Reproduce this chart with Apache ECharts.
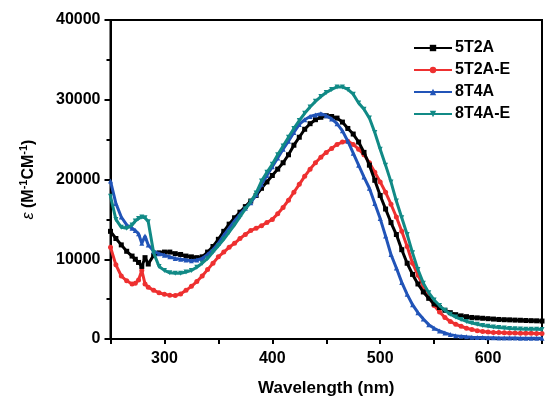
<!DOCTYPE html>
<html>
<head>
<meta charset="utf-8">
<script src="https://cdn.jsdelivr.net/npm/echarts@6/dist/echarts.min.js"></script>
<style>html,body{margin:0;padding:0;background:#fff}#c{width:545px;height:402px}</style>
</head>
<body>
<div id="c"></div>
<script>
const wavelengths = [250,255,260,265,270,273,276,279,282,285,
  290,295,300,305,310,315,320,325,330,335,
  340,345,350,355,360,365,370,375,380,385,
  390,395,400,405,410,415,420,425,430,435,
  440,445,450,455,460,465,470,475,480,485,
  490,495,500,505,510,515,520,525,530,535,
  540,545,550,555,560,565,570,575,580,585,
  590,595,600,605,610,615,620,625,630,635,
  640,645,650];
const seriesNames = ['5T2A','5T2A-E','8T4A','8T4A-E'];
const s5T2A = [13500,12600,11800,11000,10400,10000,9600,9100,10200,9400,
  10500,10800,10900,10900,10700,10600,10400,10300,10200,10300,
  10900,11600,12500,13500,14400,15200,15900,16600,17300,18000,
  18900,19700,20500,21300,22100,23100,24300,25300,26300,27000,
  27500,27800,28000,27900,27700,27200,26400,25700,24700,23400,
  21800,19900,18000,16300,14600,13100,11200,9500,8100,6900,
  5900,5100,4400,3950,3600,3300,3050,2900,2800,2700,
  2650,2600,2550,2500,2450,2420,2400,2370,2350,2320,
  2300,2280,2250];
const s5T2AE = [11500,9300,7900,7300,6900,7000,7400,8600,6900,6500,
  6100,5800,5600,5500,5450,5650,6100,6600,7200,7900,
  8700,9500,10300,10900,11500,12000,12600,13100,13600,13900,
  14200,14600,15000,15700,16500,17400,18400,19400,20400,21300,
  22100,22800,23400,23900,24400,24700,24800,24400,23800,23100,
  22100,20900,19700,18400,16900,15300,13500,11600,9500,8000,
  6600,5300,4200,3400,2700,2200,1850,1600,1350,1200,
  1050,950,880,830,800,780,760,740,730,720,
  710,700,700];
const s8T4A = [19800,17000,15300,14300,13900,13600,13200,12000,12900,11800,
  11000,10700,10500,10300,10100,10000,9900,9800,9900,10100,
  10600,11200,12000,13000,13900,14800,15600,16400,17100,18100,
  19400,20500,21600,22700,23800,24800,25900,26900,27500,27900,
  28100,28250,28000,27600,27000,26100,24800,23300,21800,20300,
  18900,17000,15100,12900,10600,8900,7100,5600,4300,3300,
  2500,1800,1350,1000,750,550,420,330,270,230,
  200,180,160,150,140,130,120,110,100,100,
  100,100,100];
const s8T4AE = [17900,15000,14000,13900,14300,14800,15100,15300,15200,14700,
  10800,9100,8600,8300,8250,8250,8400,8600,9000,9500,
  10100,10900,11700,12500,13400,14300,15300,16300,17200,18300,
  19800,20900,21900,23100,24200,25300,26400,27400,28300,29100,
  29800,30400,30900,31300,31600,31600,31300,30700,29600,28800,
  27700,25900,23800,21800,19700,17300,15200,13100,10800,8700,
  7000,5800,4900,4200,3600,3100,2750,2450,2200,2000,
  1850,1700,1600,1500,1430,1370,1320,1280,1250,1230,
  1220,1210,1200];
const xTickLabels = [300,400,500,600];
const yTickLabels = [0,10000,20000,30000,40000];

const colors = ['#000000','#ee3030','#2154b8','#118a86'];
const symbols = ['rect','circle','triangle','triangle'];
const rotations = [0,0,0,180];
const allValues = [s5T2A, s5T2AE, s8T4A, s8T4AE];

const chart = echarts.init(document.getElementById('c'), null, {renderer:'canvas'});
const FONT = 'Liberation Sans, Arial, sans-serif';
chart.setOption({
  animation: false,
  backgroundColor: '#fff',
  grid: {left: 110.5, right: -1, top: 20, bottom: 58.7, show: true, borderColor: '#000', borderWidth: 2, backgroundColor: 'transparent'},
  legend: {
    orient: 'vertical', left: 408, top: 35,
    itemWidth: 38, itemHeight: 8, itemGap: 6,
    textStyle: {fontFamily: FONT, fontWeight: 'bold', fontSize: 16, color: '#000', padding: [0,0,0,-2]},
    data: seriesNames
  },
  xAxis: {
    type: 'value', min: 250, max: 650, interval: 50,
    name: 'Wavelength (nm)', nameLocation: 'middle', nameGap: 41,
    nameTextStyle: {fontFamily: FONT, fontWeight: 'bold', fontSize: 17, color: '#000'},
    axisLine: {lineStyle: {color: '#000', width: 2}},
    axisTick: {length: 5, lineStyle: {color: '#000', width: 2}},
    axisLabel: {
      fontFamily: FONT, fontWeight: 'bold', fontSize: 16, color: '#000', margin: 12,
      formatter: v => xTickLabels.indexOf(v) >= 0 ? String(v) : ''
    },
    splitLine: {show: false}
  },
  yAxis: {
    type: 'value', min: 0, max: 40000, interval: 10000,
    name: '{e|ε} (M{s|-1}CM{s|-1})', nameLocation: 'middle', nameGap: 72,
    nameTextStyle: {
      fontFamily: FONT, fontWeight: 'bold', fontSize: 16, color: '#000',
      rich: {
        e: {fontFamily: FONT, fontStyle: 'italic', fontWeight: 'normal', fontSize: 16, color: '#000'},
        s: {fontFamily: FONT, fontWeight: 'bold', fontSize: 11, color: '#000', padding: [0,0,9,0]}
      }
    },
    axisLine: {show: true, lineStyle: {color: '#000', width: 2}},
    axisTick: {show: true, length: 6, lineStyle: {color: '#000', width: 2}},
    minorTick: {show: true, splitNumber: 2, length: 4, lineStyle: {color: '#000', width: 2}},
    axisLabel: {
      fontFamily: FONT, fontWeight: 'bold', fontSize: 16, color: '#000', margin: 10,
      formatter: v => yTickLabels.indexOf(v) >= 0 ? String(v) : ''
    },
    splitLine: {show: false}
  },
  series: seriesNames.map((name, i) => ({
    name: name,
    type: 'line',
    data: wavelengths.map((w, k) => [w, allValues[i][k]]),
    symbol: symbols[i],
    symbolRotate: rotations[i],
    symbolSize: 5,
    showSymbol: true,
    lineStyle: {color: colors[i], width: 3},
    itemStyle: {color: colors[i]},
    z: [3,2,4,5][i]
  }))
});
</script>
</body>
</html>
